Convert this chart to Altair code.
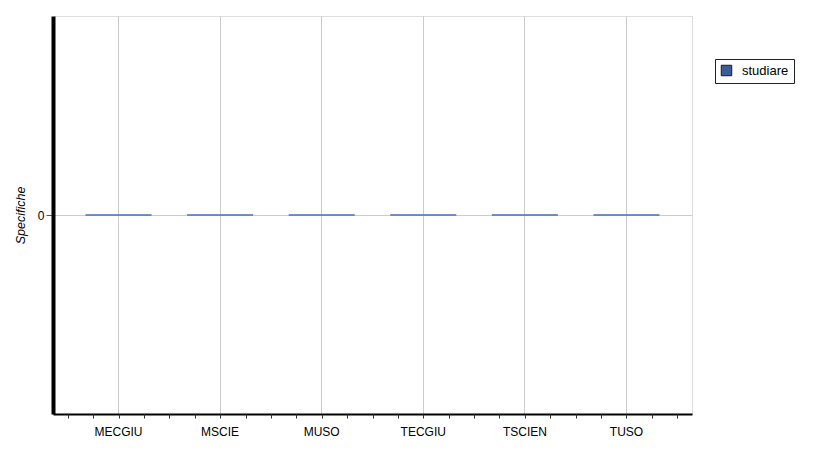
import altair as alt
import pandas as pd

categories = ["MECGIU", "MSCIE", "MUSO", "TECGIU", "TSCIEN", "TUSO"]
values = [0, 0, 0, 0, 0, 0]
series = "studiare"
minor_ticks = [i * 0.25 - 0.5 for i in range(25)]

df = pd.DataFrame({"cat": categories, "val": values, "serie": [series] * len(categories)})
df_ticks = pd.DataFrame({"pos": minor_ticks})

FONT = "Liberation Sans"
P_IN, P_OUT = 0.35, 0.32
edge = P_OUT + (1 - P_IN) / 2

bars = alt.Chart(df).mark_bar(stroke="#4a70c2", strokeWidth=1.3).encode(
    x=alt.X("cat:N", sort=categories, title=None,
            scale=alt.Scale(paddingInner=P_IN, paddingOuter=P_OUT),
            axis=alt.Axis(labelAngle=0, ticks=False, domain=True, domainColor="black",
                          domainWidth=2, grid=True, gridColor="#cccccc", labelPadding=12,
                          labelFont=FONT, labelFontSize=12, labelColor="black")),
    y=alt.Y("val:Q", title="Specifiche",
            scale=alt.Scale(domain=[-1, 1], nice=False, zero=False),
            axis=alt.Axis(values=[0], tickSize=7, tickColor="#555", domainColor="black",
                          domainWidth=4, gridColor="#cccccc", labelFont=FONT,
                          labelFontSize=12, labelColor="black", titleFont=FONT,
                          titleFontSize=12.5, titleFontStyle="italic", titleFontWeight="normal",
                          titleColor="black", titlePadding=10)),
    color=alt.Color("serie:N", title=None,
                    scale=alt.Scale(range=["#3c5b9b"]),
                    legend=alt.Legend(orient="none", legendX=662, legendY=43,
                                      strokeColor="#222", fillColor="white", padding=5,
                                      symbolType="square", symbolSize=110, labelOffset=9,
                                      symbolStrokeColor="#1a1a1a", symbolStrokeWidth=1,
                                      labelFont=FONT, labelFontSize=13, labelColor="black")),
)

minor = alt.Chart(df_ticks).mark_point(opacity=0).encode(
    x=alt.X("pos:Q", title=None,
            scale=alt.Scale(domain=[-edge, len(categories) - 1 + edge], nice=False, zero=False),
            axis=alt.Axis(orient="bottom", values=minor_ticks, labels=False, domain=False,
                          grid=False, tickSize=4, tickColor="#333")),
)

chart = alt.layer(bars, minor).resolve_scale(x="independent").properties(
    width=639, height=398,
    autosize=alt.AutoSizeParams(type="none"),
    padding={"left": 45, "top": 8, "right": 120, "bottom": 25},
).configure_view(stroke="#555", strokeWidth=1.2).configure(background="white")

chart.save("out.html", embed_options={"renderer": "svg", "actions": False})
